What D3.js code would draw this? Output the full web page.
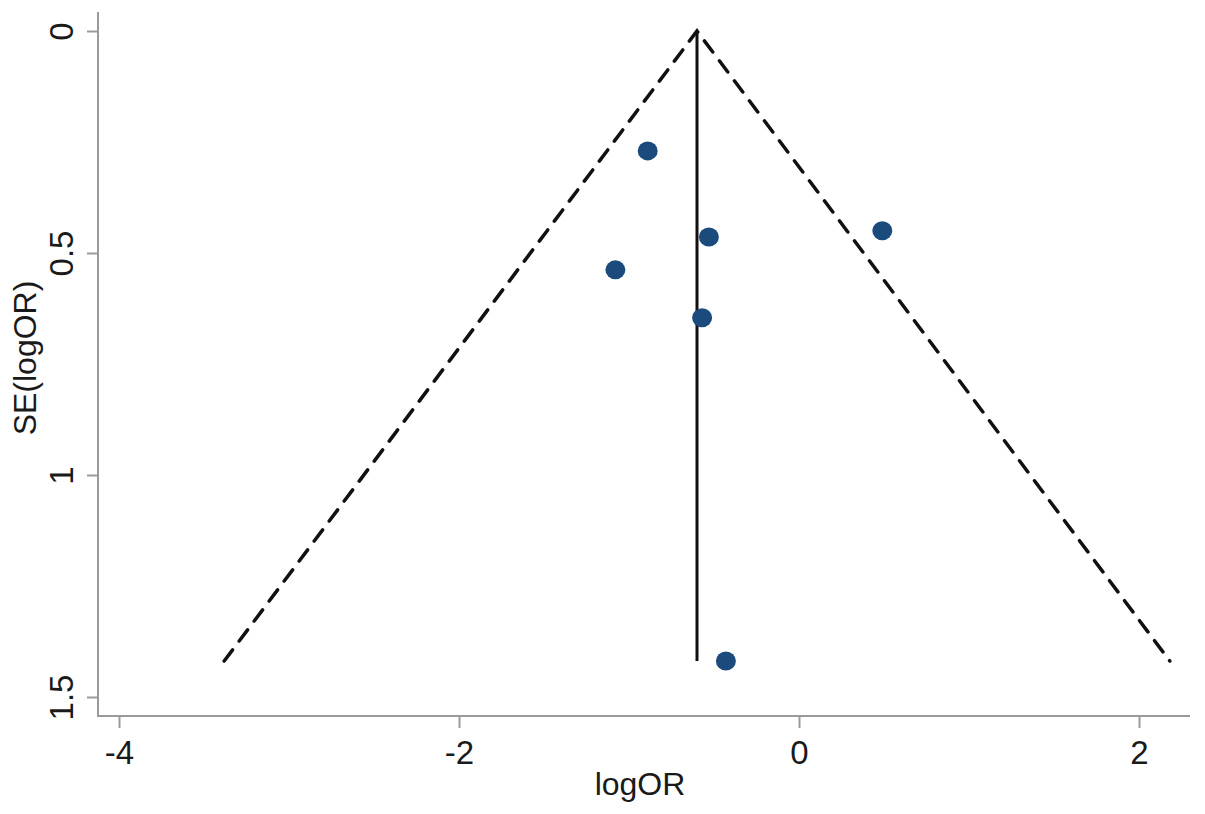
<!DOCTYPE html>
<html lang="en">
<head>
    <meta charset="UTF-8">
    <title>Funnel plot</title>
    <style>
        body { margin: 0; background: #fff; }
        text { font-family: "Liberation Sans", Arial, sans-serif; fill: #1a1a1a; }
    </style>
</head>
<body>
    <script src="https://cdn.jsdelivr.net/npm/d3@7"></script>
    <script>
        // data
        var logOR = [-0.89, -0.53, 0.49, -1.08, -0.57, -0.43];
        var seLogOR = [0.270, 0.464, 0.450, 0.538, 0.646, 1.419];
        var pooled = -0.6;
        var seMax = 1.419;
        var xTicks = [-4, -2, 0, 2];
        var yTicks = [0, 0.5, 1, 1.5];

        var width = 1205, height = 814;

        var svg = d3.select('body').append('svg')
            .attr('width', width)
            .attr('height', height);

        var x = d3.scaleLinear().domain([-4, 2]).range([119, 1139]);
        var y = d3.scaleLinear().domain([0, 1.5]).range([31, 697]);

        // 95% pseudo confidence limits
        var funnel = [
            [pooled - 1.96 * seMax, seMax],
            [pooled, 0],
            [pooled + 1.96 * seMax, seMax]
        ];
        var line = d3.line()
            .x(function(d) { return x(d[0]); })
            .y(function(d) { return y(d[1]); });

        svg.append('path')
            .attr('d', line(funnel))
            .attr('fill', 'none')
            .attr('stroke', '#111')
            .attr('stroke-width', 3.5)
            .attr('stroke-linecap', 'round')
            .attr('stroke-dasharray', '14,11');

        // pooled estimate
        svg.append('line')
            .attr('x1', x(pooled)).attr('x2', x(pooled))
            .attr('y1', y(0)).attr('y2', y(seMax))
            .attr('stroke', '#111')
            .attr('stroke-width', 3);

        // studies
        svg.selectAll('.pt')
            .data(logOR)
            .enter()
            .append('ellipse')
            .attr('class', 'pt')
            .attr('cx', function(d) { return x(d); })
            .attr('cy', function(d, i) { return y(seLogOR[i]); })
            .attr('rx', 10)
            .attr('ry', 9.5)
            .attr('fill', '#1b4a7c');

        // axes
        var axisColor = '#9a9a9a';
        var xAxis = svg.append('g')
            .attr('transform', 'translate(0,716)')
            .call(d3.axisBottom(x).tickValues(xTicks).tickSize(12).tickPadding(13));
        xAxis.select('.domain').remove();
        xAxis.append('line')
            .attr('x1', 98).attr('x2', 1190)
            .attr('stroke', axisColor).attr('stroke-width', 2);
        xAxis.selectAll('.tick line').attr('stroke', axisColor).attr('stroke-width', 2);
        xAxis.selectAll('.tick text')
            .attr('fill', '#1a1a1a')
            .style('font-size', '33px')
            .text(function(d) { return d < 0 ? '-' + Math.abs(d) : d; });

        var yAxis = svg.append('g')
            .attr('transform', 'translate(98,0)')
            .call(d3.axisLeft(y).tickValues(yTicks).tickSize(11).tickFormat(function(d) { return String(d); }));
        yAxis.select('.domain').remove();
        yAxis.append('line')
            .attr('y1', 12).attr('y2', 717)
            .attr('stroke', axisColor).attr('stroke-width', 2);
        yAxis.selectAll('.tick line').attr('stroke', axisColor).attr('stroke-width', 2);
        yAxis.selectAll('.tick text')
            .attr('x', 0)
            .attr('y', 0)
            .attr('dy', '0')
            .attr('fill', '#1a1a1a')
            .attr('text-anchor', 'middle')
            .attr('transform', 'translate(-25,0) rotate(-90)')
            .style('font-size', '33px');

        // axis titles
        svg.append('text')
            .attr('x', 640).attr('y', 795)
            .attr('text-anchor', 'middle')
            .style('font-size', '32px')
            .text('logOR');

        svg.append('text')
            .attr('transform', 'translate(36,358) rotate(-90)')
            .attr('text-anchor', 'middle')
            .style('font-size', '32px')
            .text('SE(logOR)');
    </script>
</body>
</html>
